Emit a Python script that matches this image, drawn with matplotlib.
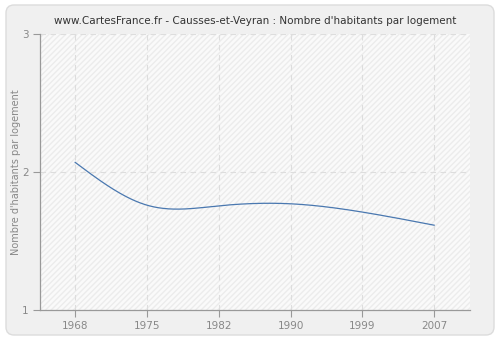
import matplotlib
matplotlib.use("Agg")
import matplotlib.pyplot as plt
import numpy as np
from matplotlib.patches import FancyBboxPatch

years = ["1968", "1975", "1982", "1990", "1999", "2007"]
hab_per_logement = [2.07, 1.76, 1.755, 1.77, 1.71, 1.615]
y_ticks = [1, 2, 3]


def natural_spline(x, y, n=300):
    """Natural cubic spline through (x, y), sampled on n points."""
    x = np.asarray(x, float)
    y = np.asarray(y, float)
    k = len(x)
    h = np.diff(x)
    A = np.zeros((k, k))
    r = np.zeros(k)
    A[0, 0] = A[-1, -1] = 1
    for i in range(1, k - 1):
        A[i, i - 1] = h[i - 1]
        A[i, i] = 2 * (h[i - 1] + h[i])
        A[i, i + 1] = h[i]
        r[i] = 3 * ((y[i + 1] - y[i]) / h[i] - (y[i] - y[i - 1]) / h[i - 1])
    c = np.linalg.solve(A, r)
    xs = np.linspace(x[0], x[-1], n)
    ys = np.empty_like(xs)
    for j, xv in enumerate(xs):
        i = min(np.searchsorted(x, xv, side="right") - 1, k - 2)
        dx = xv - x[i]
        b = (y[i + 1] - y[i]) / h[i] - h[i] * (2 * c[i] + c[i + 1]) / 3
        d = (c[i + 1] - c[i]) / (3 * h[i])
        ys[j] = y[i] + b * dx + c[i] * dx ** 2 + d * dx ** 3
    return xs, ys


fig = plt.figure(figsize=(5, 3.4), dpi=100)
fig.patch.set_facecolor("white")

# rounded grey panel behind everything
bg = fig.add_axes([0, 0, 1, 1], zorder=0)
bg.axis("off")
bg.set_xlim(0, 500)
bg.set_ylim(340, 0)
bg.add_patch(FancyBboxPatch((6, 5), 488, 330,
                            boxstyle="round,pad=0,rounding_size=8",
                            facecolor="#f0f0f0", edgecolor="#dcdcdc",
                            linewidth=1))

ax = fig.add_axes([0.08, 0.088, 0.86, 0.812], zorder=1)
ax.set_facecolor("#fafafa")
ax.patch.set_hatch("//////")
ax.patch.set_edgecolor("#ececec")
ax.patch.set_linewidth(0)

pos = np.arange(len(years))
xs, ys = natural_spline(pos, hab_per_logement)
ax.plot(xs, ys, color="#4a78b0", linewidth=0.9, zorder=3)

ax.set_xlim(-0.49, 5.5)
ax.set_ylim(1, 3)
ax.set_xticks(pos)
ax.set_xticklabels(years)
ax.set_yticks(y_ticks)

ax.grid(True, color="#dddddd", linestyle=(0, (5, 4)), linewidth=0.8)
ax.set_axisbelow(True)

for side in ("top", "right"):
    ax.spines[side].set_visible(False)
for side in ("left", "bottom"):
    ax.spines[side].set_color("#999999")
    ax.spines[side].set_linewidth(0.9)

ax.tick_params(colors="#999999", labelcolor="#888888", labelsize=7.5,
               length=5, width=0.8, pad=3)

ax.set_ylabel("Nombre d'habitants par logement", fontsize=7, color="#888888",
              labelpad=1)
ax.set_title("www.CartesFrance.fr - Causses-et-Veyran : Nombre d'habitants par logement",
             fontsize=7.5, color="#333333", pad=7)

fig.savefig("out.png", dpi=100, facecolor=fig.get_facecolor())
